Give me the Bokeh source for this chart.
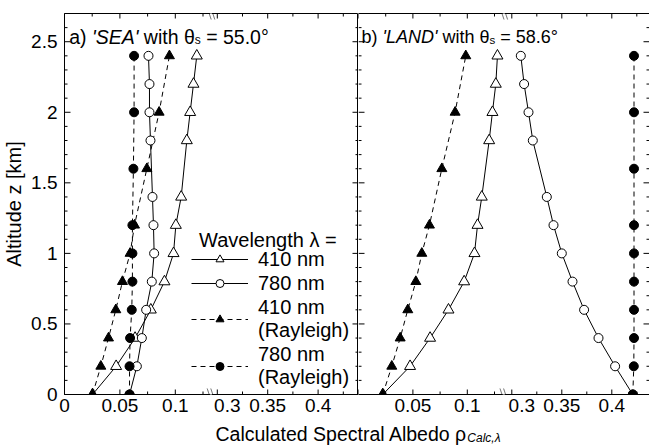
from bokeh.plotting import figure
from bokeh.layouts import row, column
from bokeh.models import (ColumnDataSource, Range1d, LinearAxis, FixedTicker, Label, Legend,
                          LegendItem, CustomJSTransform, PolyAnnotation)
from bokeh.transform import transform
from bokeh.embed import file_html
from bokeh.resources import INLINE

FONT = "Liberation Sans"

# ---------------- data ----------------
z_full = [0.0, 0.2, 0.4, 0.6, 0.8, 1.0, 1.2, 1.4, 1.8, 2.0, 2.2, 2.4]
z_ray = [0.0, 0.2, 0.4, 0.6, 0.8, 1.0, 1.2, 1.6, 2.0, 2.4]

sea_410 = [0.0253, 0.0466, 0.0637, 0.0779, 0.0902, 0.0984, 0.1005, 0.1053, 0.1104, 0.1134, 0.1164, 0.1194]
sea_780 = [0.0587, 0.0653, 0.0698, 0.0737, 0.0788, 0.0809, 0.0803, 0.0794, 0.0776, 0.0767, 0.0767, 0.0758]
sea_410_ray = [0.0253, 0.0328, 0.0397, 0.0463, 0.0523, 0.0592, 0.0632, 0.0743, 0.0854, 0.0947]
sea_780_ray = [0.0587, 0.0587, 0.0592, 0.0607, 0.0613, 0.0613, 0.0613, 0.0622, 0.0628, 0.0628]

land_410 = [0.0223, 0.0474, 0.0658, 0.0827, 0.0971, 0.1066, 0.1094, 0.1133, 0.1201, 0.1231, 0.1262, 0.1277]
land_780 = [0.4210, 0.4033, 0.3867, 0.3723, 0.3607, 0.3500, 0.3417, 0.3350, 0.3210, 0.3167, 0.3123, 0.3090]
land_410_ray = [0.0223, 0.0306, 0.0383, 0.0453, 0.0527, 0.0582, 0.0652, 0.0766, 0.0888, 0.0986]
land_780_ray = [0.4210, 0.4220, 0.4222, 0.4222, 0.4222, 0.4222, 0.4222, 0.4222, 0.4222, 0.4222]

x_major = [0.0, 0.05, 0.1, 0.3, 0.35, 0.4]
x_labels_a = ["0", "0.05", "0.1", "0.3", "0.35", "0.4"]
x_labels_b = ["", "0.05", "0.1", "0.3", "0.35", "0.4"]
x_minor = [0.025, 0.075, 0.125, 0.325, 0.375, 0.425]
y_major = [0.0, 0.5, 1.0, 1.5, 2.0, 2.5]
y_labels = ["0", "0.5", "1", "1.5", "2", "2.5"]
y_minor = [round(0.1 * k, 1) for k in range(1, 27) if k % 5 != 0]

legend_labels = ["410 nm", "780 nm", "410 nm\n(Rayleigh)", "780 nm\n(Rayleigh)"]

# broken-axis geometry (frame width, break value, scales of the two segments)
PA = dict(fw=294, vb=0.1322, s1=1108.0, ub=146.5, r0=0.29375, s2=1008.0)
PB = dict(fw=291, vb=0.1335, s1=1088.0, ub=145.3, r0=0.2920, s2=1000.0)

FH = 381
YMAX = 2.7
PXY = YMAX / FH  # data units of y per pixel

W = {' ': .278, '(': .333, ')': .333, "'": .191, ',': .278, '.': .278, '=': .584, '°': .4,
     'A': .667, 'C': .722, 'D': .722, 'E': .667, 'L': .556, 'N': .722, 'S': .667, 'W': .944,
     'a': .556, 'b': .556, 'c': .5, 'd': .556, 'e': .556, 'g': .556, 'h': .556, 'i': .222,
     'k': .5, 'l': .222, 'm': .833, 'n': .556, 'o': .556, 'p': .556, 'r': .333, 's': .5,
     't': .278, 'u': .556, 'w': .722, 'z': .5, 'θ': .556, 'λ': .556, 'ρ': .577}


def tw(s, size):
    return sum(W.get(ch, 0.556) for ch in s) * size


def rich(p, x, y, pieces):
    for text, style, size, dy in pieces:
        lead = len(text) - len(text.lstrip())
        p.add_layout(Label(x=x + tw(text[:lead], size), y=y + dy, x_units="screen", y_units="screen",
                           text=text.strip(), text_font=FONT, text_font_size=f"{size}px",
                           text_font_style=style, text_align="left", text_baseline="alphabetic",
                           text_color="black"))
        x += tw(text, size)


def brk_u(v, P):
    return v * P["s1"] if v < P["vb"] else P["ub"] + (v - P["r0"]) * P["s2"]


def label_axis(ax, standoff):
    ax.axis_line_color = "black"
    ax.axis_line_width = 1
    ax.major_tick_in = 0
    ax.major_tick_out = 0
    ax.minor_tick_in = 0
    ax.minor_tick_out = 0
    ax.major_label_text_font = FONT
    ax.major_label_text_font_size = "19px"
    ax.major_label_text_color = "black"
    ax.major_label_standoff = standoff


def make_panel(P, data, xlabels, ml, yaxis_labels, title_pieces, title_x, with_legend, outline):
    fw = P["fw"]
    p = figure(frame_width=fw, frame_height=FH, x_range=Range1d(0, fw), y_range=Range1d(0, YMAX),
               x_axis_location=None, y_axis_location=None, output_backend="svg",
               toolbar_location=None, min_border_left=ml, min_border_right=0,
               min_border_top=13, min_border_bottom=28,
               outline_line_color="black" if outline else None,
               outline_line_width=1, background_fill_color="white", border_fill_color="white")
    p.xgrid.grid_line_color = None
    p.ygrid.grid_line_color = None

    tf = CustomJSTransform(args=dict(vb=P["vb"], s1=P["s1"], ub=P["ub"], r0=P["r0"], s2=P["s2"]),
                           v_func="""
const out = new Array(xs.length);
for (let i = 0; i < xs.length; i++) {
  const v = xs[i];
  out[i] = v < vb ? v * s1 : ub + (v - r0) * s2;
}
return out;
""")

    # x tick labels (the "0.3" label sits a little right of its tick, clear of the break)
    lab_pos, lab_txt = [], []
    for v, lab in zip(x_major, xlabels):
        if lab:
            u = brk_u(v, P) + (10 if v == 0.3 else 0)
            lab_pos.append(round(u, 2))
            lab_txt.append(lab)
    bx = LinearAxis(ticker=FixedTicker(ticks=lab_pos, minor_ticks=[]),
                    major_label_overrides={t: s for t, s in zip(lab_pos, lab_txt)})
    label_axis(bx, 4)
    p.add_layout(bx, "below")

    if yaxis_labels:
        ly = LinearAxis(ticker=FixedTicker(ticks=y_major, minor_ticks=[]),
                        major_label_overrides={v: s for v, s in zip(y_major, y_labels)})
        label_axis(ly, 7)
        ly.axis_label = "Altitude z [km]"
        ly.axis_label_text_font = FONT
        ly.axis_label_text_font_size = "20px"
        ly.axis_label_text_font_style = "normal"
        ly.axis_label_text_color = "black"
        ly.axis_label_standoff = 3
        p.add_layout(ly, "left")

    if not outline:
        # frame lines on top and right (the left one is the neighbouring panel's border)
        for side in ("above", "right"):
            ax = LinearAxis(ticker=FixedTicker(ticks=[], minor_ticks=[]))
            label_axis(ax, 0)
            p.add_layout(ax, side)

    # inward tick marks on all four sides
    ux_maj = [brk_u(v, P) for v in x_major]
    ux_min = [brk_u(v, P) for v in x_minor]
    sx0, sy0, sx1, sy1 = [], [], [], []
    for ticks, ln in ((ux_maj, 5), (ux_min, 3)):
        for u in ticks:
            sx0 += [u, u]
            sx1 += [u, u]
            sy0 += [0.0, YMAX]
            sy1 += [ln * PXY, YMAX - ln * PXY]
    for ticks, ln in ((y_major, 6), (y_minor, 3)):
        for z in ticks:
            sx0 += [0.0, fw]
            sx1 += [ln, fw - ln]
            sy0 += [z, z]
            sy1 += [z, z]
    p.segment(x0=sx0, y0=sy0, x1=sx1, y1=sy1, line_color="black", line_width=1)

    (v410, v780, v410r, v780r) = data
    s410 = ColumnDataSource(dict(v=v410, z=z_full))
    s780 = ColumnDataSource(dict(v=v780, z=z_full))
    s410r = ColumnDataSource(dict(v=v410r, z=z_ray))
    s780r = ColumnDataSource(dict(v=v780r, z=z_ray))
    X = transform("v", tf)

    l1 = p.line(x=X, y="z", source=s410, line_color="black", line_width=1)
    l2 = p.line(x=X, y="z", source=s780, line_color="black", line_width=1)
    l3 = p.line(x=X, y="z", source=s410r, line_color="black", line_width=1, line_dash="5 4")
    l4 = p.line(x=X, y="z", source=s780r, line_color="black", line_width=1, line_dash="5 4")
    m1 = p.scatter(x=X, y="z", source=s410, marker="triangle", size=11, fill_color="white",
                   line_color="black", line_width=1)
    m2 = p.scatter(x=X, y="z", source=s780, marker="circle", size=9, fill_color="white",
                   line_color="black", line_width=1)
    m3 = p.scatter(x=X, y="z", source=s410r, marker="triangle", size=10, fill_color="black",
                   line_color="black", line_width=1)
    m4 = p.scatter(x=X, y="z", source=s780r, marker="circle", size=9, fill_color="black",
                   line_color="black", line_width=1)

    # break marks "\\" across the bottom and top axis lines
    bu = P["ub"]
    hd = 6.0 * PXY
    d = 1.8
    for y0 in (0.0, YMAX):
        gh = 1.5 * PXY
        sh = 2.0 * gh / hd
        p.add_layout(PolyAnnotation(xs=[bu - d - sh + 0.7, bu + d - sh - 0.7, bu + d + sh - 0.7, bu - d + sh + 0.7],
                                    ys=[y0 + gh, y0 + gh, y0 - gh, y0 - gh],
                                    fill_color="white", fill_alpha=1, line_color=None))
        for off in (-d, d):
            p.add_layout(PolyAnnotation(xs=[bu + off - 2, bu + off + 2, bu + off - 2],
                                        ys=[y0 + hd, y0 - hd, y0 + hd],
                                        fill_alpha=0, line_color="black", line_width=1))

    rich(p, title_x, FH - 23.5, title_pieces)

    if with_legend:
        rich(p, 134.5, 154.5, [("Wavelength λ =", "normal", 20, 0)])
        items = [LegendItem(label=legend_labels[0], renderers=[l1, m1]),
                 LegendItem(label=legend_labels[1], renderers=[l2, m2]),
                 LegendItem(label=legend_labels[2], renderers=[l3, m3]),
                 LegendItem(label=legend_labels[3], renderers=[l4, m4])]
        lg = Legend(items=items, location=(127, 5.5), glyph_width=57, glyph_height=20,
                    label_standoff=10, spacing=1, padding=0, margin=0, border_line_color=None,
                    background_fill_alpha=0, label_text_font=FONT, label_text_font_size="20px",
                    label_height=20, label_text_color="black")
        p.add_layout(lg)
    return p


title_a = [("a) ", "normal", 19.5, 0), ("'SEA'", "italic", 19.5, 0), (" with θ", "normal", 19.5, 0),
           ("s", "normal", 12, -2.5), (" = 55.0°", "normal", 19.5, 0)]
title_b = [("b) ", "normal", 18, 0), ("'LAND'", "italic", 18, 0), (" with θ", "normal", 18, 0),
           ("s", "normal", 11.5, -2.5), (" = 58.6°", "normal", 18, 0)]

pa = make_panel(PA, (sea_410, sea_780, sea_410_ray, sea_780_ray), x_labels_a, 63, True,
                title_a, 4.7, True, True)
pb = make_panel(PB, (land_410, land_780, land_410_ray, land_780_ray), x_labels_b, 0, False,
                title_b, 3.0, False, False)

c = figure(frame_width=650, frame_height=24, x_range=Range1d(0, 1), y_range=Range1d(0, 1),
           x_axis_location=None, y_axis_location=None, output_backend="svg", toolbar_location=None,
           min_border_left=0, min_border_right=0, min_border_top=0, min_border_bottom=0,
           outline_line_color=None)
c.xgrid.grid_line_color = None
c.ygrid.grid_line_color = None
XT = "Calculated Spectral Albedo ρ"
c.add_layout(Label(x=215, y=13, x_units="screen", y_units="screen", text=XT, text_font=FONT,
                   text_font_size="19.5px", text_align="left", text_baseline="alphabetic",
                   text_color="black"))
c.add_layout(Label(x=215 + tw(XT, 19.5), y=9, x_units="screen", y_units="screen", text="Calc,λ",
                   text_font=FONT, text_font_size="12px", text_font_style="italic",
                   text_align="left", text_baseline="alphabetic", text_color="black"))

layout = column(row(pa, pb), c)
open("out.html", "w").write(file_html(layout, INLINE))
